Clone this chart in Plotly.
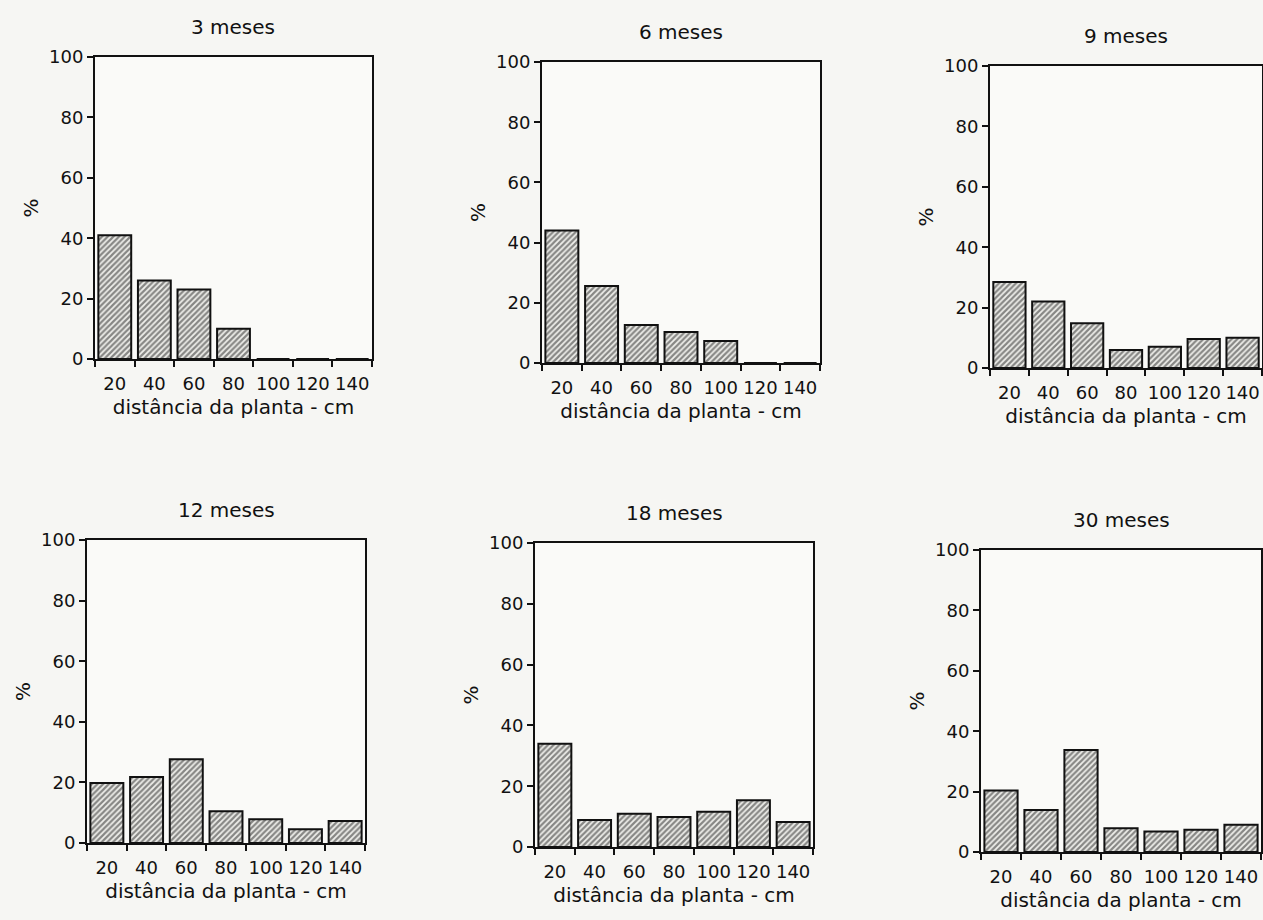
import plotly.graph_objects as go

distancias = [20, 40, 60, 80, 100, 120, 140]
tick_labels = ["20", "40", "60", "80", "100", "120", "140"]
y_ticks = [0, 20, 40, 60, 80, 100]

titulos = ["3 meses", "6 meses", "9 meses", "12 meses", "18 meses", "30 meses"]

v_3m = [41, 26, 23, 10, 0, 0, 0]
v_6m = [44, 25.6, 12.6, 10.3, 7.3, 0, 0]
v_9m = [28.5, 22, 14.8, 6, 7, 9.6, 10]
v_12m = [19.8, 21.8, 27.6, 10.5, 7.8, 4.5, 7.3]
v_18m = [34, 8.9, 10.9, 9.9, 11.6, 15.4, 8.2]
v_30m = [20.4, 13.9, 33.8, 7.9, 6.8, 7.4, 9]

series = [v_3m, v_6m, v_9m, v_12m, v_18m, v_30m]

W, H = 1263, 920
# plot-area boxes in pixels: (left, right, top, bottom)
boxes = [
    (95, 372, 57, 359),
    (542, 820, 62, 363),
    (990, 1262, 66, 368),
    (87, 365, 540, 843),
    (535, 813, 543, 847),
    (981, 1261, 550, 852),
]

FONT = "DejaVu Sans"
BG = "#f6f6f3"
INK = "#111111"

fig = go.Figure()
layout = dict(
    width=W, height=H,
    margin=dict(l=0, r=0, t=0, b=0, autoexpand=False),
    paper_bgcolor=BG, plot_bgcolor="#fafaf8",
    showlegend=False,
    font=dict(family=FONT, size=18, color=INK),
    annotations=[],
)

for i, (vals, title, box) in enumerate(zip(series, titulos, boxes)):
    n = "" if i == 0 else str(i + 1)
    l, r, t, b = box
    fig.add_trace(go.Bar(
        x=distancias, y=vals, width=16.6,
        xaxis="x" + n, yaxis="y" + n,
        marker=dict(
            color="white",
            line=dict(color=INK, width=2),
            pattern=dict(shape="/", size=4, solidity=0.55, fgcolor="#1e1e1e", bgcolor="#efefeb"),
        ),
    ))
    layout["xaxis" + n] = dict(
        domain=[l / W, r / W], anchor="y" + n, range=[10, 150], automargin=False,
        tickvals=distancias, ticktext=tick_labels, ticks="", ticklen=0,
        ticklabeloverflow="allow",
        minor=dict(tick0=10, dtick=20, ticks="outside", ticklen=6, tickwidth=2, tickcolor=INK),
        showline=True, linecolor=INK, linewidth=2, mirror=True,
        showgrid=False, zeroline=False, fixedrange=True,
        ticklabelstandoff=7,
        tickfont=dict(family=FONT, size=18, color=INK),
        title=dict(text="distância da planta - cm", font=dict(family=FONT, size=20, color=INK), standoff=7),
    )
    layout["yaxis" + n] = dict(
        domain=[1 - b / H, 1 - t / H], anchor="x" + n, range=[0, 100], automargin=False,
        tickvals=y_ticks, ticks="outside", ticklen=6, tickwidth=2, tickcolor=INK,
        showline=True, linecolor=INK, linewidth=2, mirror=True,
        showgrid=False, zeroline=False, fixedrange=True,
        tickfont=dict(family=FONT, size=18, color=INK),
        title=dict(text="%", font=dict(family=FONT, size=20, color=INK), standoff=5),
    )
    layout["annotations"].append(dict(
        text=title, xref="paper", yref="paper",
        x=(l + r) / 2 / W, y=1 - (t - 30) / H,
        showarrow=False, font=dict(family=FONT, size=20, color=INK), xanchor="center", yanchor="middle",
    ))

fig.update_layout(**layout)
fig.write_html("out.html", config={"displayModeBar": False},
               post_script="document.body.style.margin='0';")
